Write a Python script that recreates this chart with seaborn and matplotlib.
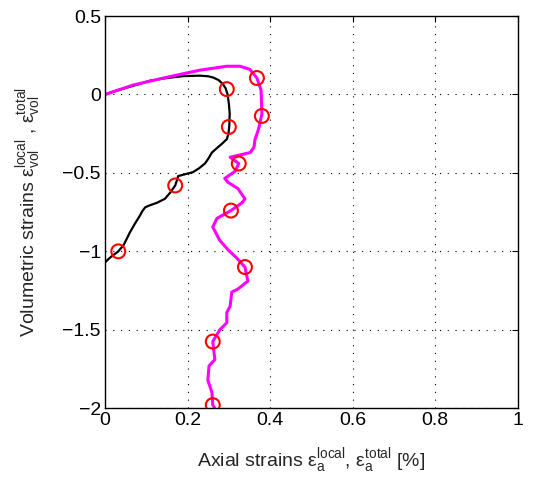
import matplotlib
matplotlib.use('Agg')
import matplotlib.pyplot as plt
import seaborn as sns
import pandas as pd

# local strains (black)
local_x = [0.0, 0.03, 0.068, 0.109, 0.15, 0.19, 0.23, 0.25, 0.262, 0.275, 0.285, 0.292, 0.297,
           0.30, 0.302, 0.301, 0.299, 0.295, 0.285, 0.274, 0.259, 0.25, 0.242, 0.228, 0.213,
           0.189, 0.177, 0.175, 0.17, 0.158, 0.145, 0.126, 0.105, 0.097, 0.09, 0.085, 0.072,
           0.06, 0.045, 0.032, 0.012, 0.0]
local_y = [0.0, 0.027, 0.055, 0.088, 0.105, 0.117, 0.12, 0.116, 0.108, 0.092, 0.068, 0.04, 0.0,
           -0.06, -0.12, -0.2, -0.25, -0.285, -0.31, -0.335, -0.37, -0.41, -0.44, -0.47, -0.495,
           -0.512, -0.52, -0.54, -0.58, -0.625, -0.665, -0.69, -0.71, -0.72, -0.745, -0.77, -0.825,
           -0.88, -0.96, -1.0, -1.04, -1.07]

# total strains (magenta)
total_x = [0.0, 0.068, 0.15, 0.23, 0.295, 0.327, 0.351, 0.368, 0.378, 0.38, 0.372, 0.363, 0.361,
           0.352, 0.303, 0.324, 0.315, 0.29, 0.298, 0.322, 0.339, 0.332, 0.305, 0.271,
           0.261, 0.278, 0.298, 0.32, 0.339, 0.346, 0.322, 0.307, 0.303, 0.295, 0.295,
           0.278, 0.261, 0.266, 0.252, 0.249, 0.259, 0.261, 0.266]
total_y = [0.0, 0.06, 0.11, 0.155, 0.18, 0.18, 0.16, 0.105, 0.028, -0.125, -0.22, -0.29, -0.335,
           -0.37, -0.40, -0.44, -0.49, -0.535, -0.56, -0.60, -0.665, -0.69, -0.74, -0.79,
           -0.845, -0.93, -0.99, -1.045, -1.10, -1.19, -1.24, -1.26, -1.35, -1.39, -1.455,
           -1.50, -1.575, -1.69, -1.73, -1.82, -1.90, -1.98, -2.0]

# red circle markers
local_mx = [0.295, 0.300, 0.170, 0.032]
local_my = [0.034, -0.207, -0.58, -1.0]
total_mx = [0.368, 0.380, 0.324, 0.305, 0.339, 0.261, 0.261]
total_my = [0.105, -0.137, -0.44, -0.74, -1.10, -1.575, -1.98]

sns.set_style('white')
plt.rcParams['font.family'] = ['Liberation Sans', 'DejaVu Sans']
plt.rcParams['mathtext.fontset'] = 'custom'
plt.rcParams['mathtext.rm'] = 'Liberation Sans'
plt.rcParams['mathtext.it'] = 'Liberation Sans:italic'

fig = plt.figure(figsize=(5.36, 4.86), dpi=100)
ax = fig.add_axes([0.196, 0.160, 0.770, 0.807])

df_local = pd.DataFrame({'x': local_x, 'y': local_y})
df_total = pd.DataFrame({'x': total_x, 'y': total_y})
sns.lineplot(data=df_local, x='x', y='y', sort=False, estimator=None, color='black', linewidth=1.6, ax=ax)
sns.lineplot(data=df_total, x='x', y='y', sort=False, estimator=None, color='magenta', linewidth=2.2, ax=ax)

mk = pd.DataFrame({'x': local_mx + total_mx, 'y': local_my + total_my})
sns.scatterplot(data=mk, x='x', y='y', marker='o', s=100, fc='none', ec='red', linewidth=1.5, ax=ax, zorder=5)

ax.set_xlim(0, 1)
ax.set_ylim(-2, 0.5)
ax.set_xticks([0, 0.2, 0.4, 0.6, 0.8, 1])
ax.set_xticklabels(['0', '0.2', '0.4', '0.6', '0.8', '1'])
ax.set_yticks([-2, -1.5, -1, -0.5, 0, 0.5])
ax.set_yticklabels(['\u22122', '\u22121.5', '\u22121', '\u22120.5', '0', '0.5'])
ax.grid(True, linestyle=(0, (1, 6)), color='black', linewidth=0.8)
ax.tick_params(direction='in', length=4, width=0.8, labelsize=14, colors='black',
               top=True, right=True, pad=3)
for s in ax.spines.values():
    s.set_color('black')
    s.set_linewidth(1.0)

eps = '\u03b5'
ax.set_xlabel('Axial strains $\\mathrm{' + eps + '}_\\mathrm{a}^\\mathrm{local}$, $\\mathrm{' + eps
              + '}_\\mathrm{a}^\\mathrm{total}$ [%]', fontsize=14, labelpad=12)
ax.set_ylabel('Volumetric strains $\\mathrm{' + eps + '}_\\mathrm{vol}^\\mathrm{local}$ , $\\mathrm{' + eps
              + '}_\\mathrm{vol}^\\mathrm{total}$', fontsize=14, labelpad=14)

fig.savefig('out.png', dpi=100)
